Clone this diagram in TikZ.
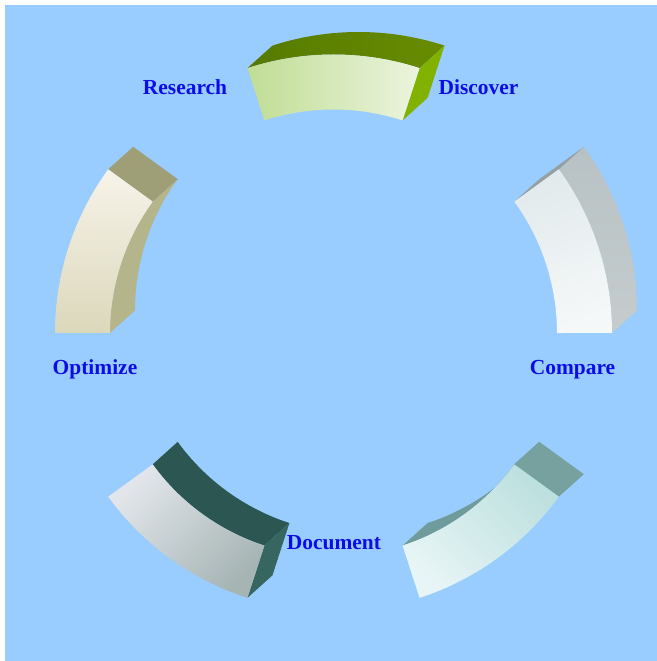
\documentclass[tikz,border=0pt]{standalone}
\usepackage{fontspec}
\setmainfont{Liberation Serif}

\definecolor{bgblue}{HTML}{99CCFF}
\definecolor{textblue}{HTML}{0C0CE6}

\tikzset{
    phase/.style={font=\fontsize{12.2}{14}\selectfont\bfseries, text=textblue, anchor=base, inner sep=0pt}
}

\begin{document}
\begin{tikzpicture}
        % Background:
        \fill[color=white] (-6.67, -6.56) rectangle (6.47, 6.66);
        \fill[color=bgblue] (-6.57, -6.56) rectangle (6.47, 6.56);

        % Ring radii:
        \def\ro{5.57}
        \def\ri{4.47}

        % Top segment (72 to 108):
        \shade[left color={rgb,255:red,86;green,122;blue,0}, right color={rgb,255:red,104;green,140;blue,0}]
            (72:\ro) arc[start angle=72, end angle=108, radius=\ro]
            -- ([shift={(0.5,0.45)}]108:\ro) arc[start angle=108, end angle=72, radius=\ro] -- cycle;
        \fill[color={rgb,255:red,130;green,178;blue,0}]
            (72:\ri) -- (72:\ro) -- ([shift={(0.5,0.45)}]72:\ro) -- ([shift={(0.5,0.45)}]72:\ri) -- cycle;
        \shade[left color={rgb,255:red,192;green,221;blue,148}, right color={rgb,255:red,236;green,244;blue,222}]
            (72:\ro) arc[start angle=72, end angle=108, radius=\ro]
            -- (108:\ri) arc[start angle=108, end angle=72, radius=\ri] -- cycle;

        % Right segment (0 to 36):
        \shade[top color={rgb,255:red,184;green,193;blue,195}, bottom color={rgb,255:red,196;green,204;blue,206}]
            (0:\ro) arc[start angle=0, end angle=36, radius=\ro]
            -- ([shift={(0.5,0.45)}]36:\ro) arc[start angle=36, end angle=0, radius=\ro] -- cycle;
        \fill[color={rgb,255:red,150;green,160;blue,163}]
            (36:\ri) -- (36:\ro) -- ([shift={(0.5,0.45)}]36:\ro) -- ([shift={(0.5,0.45)}]36:\ri) -- cycle;
        \shade[top color={rgb,255:red,226;green,234;blue,236}, bottom color={rgb,255:red,245;green,248;blue,249}, shading angle=20]
            (0:\ro) arc[start angle=0, end angle=36, radius=\ro]
            -- (36:\ri) arc[start angle=36, end angle=0, radius=\ri] -- cycle;

        % Left segment (144 to 180):
        \fill[color={rgb,255:red,181;green,181;blue,140}]
            (144:\ri) arc[start angle=144, end angle=180, radius=\ri]
            -- ([shift={(0.5,0.45)}]180:\ri) arc[start angle=180, end angle=144, radius=\ri] -- cycle;
        \fill[color={rgb,255:red,158;green,158;blue,119}]
            (144:\ri) -- (144:\ro) -- ([shift={(0.5,0.45)}]144:\ro) -- ([shift={(0.5,0.45)}]144:\ri) -- cycle;
        \shade[top color={rgb,255:red,246;green,243;blue,233}, bottom color={rgb,255:red,220;green,216;blue,187}]
            (144:\ro) arc[start angle=144, end angle=180, radius=\ro]
            -- (180:\ri) arc[start angle=180, end angle=144, radius=\ri] -- cycle;

        % Bottom left segment (216 to 252):
        \fill[color={rgb,255:red,44;green,86;blue,82}]
            (216:\ri) arc[start angle=216, end angle=252, radius=\ri]
            -- ([shift={(0.5,0.45)}]252:\ri) arc[start angle=252, end angle=216, radius=\ri] -- cycle;
        \fill[color={rgb,255:red,55;green,101;blue,95}]
            (252:\ri) -- (252:\ro) -- ([shift={(0.5,0.45)}]252:\ro) -- ([shift={(0.5,0.45)}]252:\ri) -- cycle;
        \shade[top color={rgb,255:red,226;green,230;blue,234}, bottom color={rgb,255:red,166;green,180;blue,180}, shading angle=45]
            (216:\ro) arc[start angle=216, end angle=252, radius=\ro]
            -- (252:\ri) arc[start angle=252, end angle=216, radius=\ri] -- cycle;

        % Bottom right segment (288 to 324):
        \fill[color={rgb,255:red,111;green,156;blue,154}]
            (288:\ri) arc[start angle=288, end angle=324, radius=\ri]
            -- ([shift={(0.5,0.45)}]324:\ri) arc[start angle=324, end angle=288, radius=\ri] -- cycle;
        \fill[color={rgb,255:red,119;green,161;blue,159}]
            (324:\ri) -- (324:\ro) -- ([shift={(0.5,0.45)}]324:\ro) -- ([shift={(0.5,0.45)}]324:\ri) -- cycle;
        \shade[top color={rgb,255:red,188;green,224;blue,222}, bottom color={rgb,255:red,232;green,245;blue,246}, shading angle=-45]
            (288:\ro) arc[start angle=288, end angle=324, radius=\ro]
            -- (324:\ri) arc[start angle=324, end angle=288, radius=\ri] -- cycle;

        % Labels:
        \node[phase] (research) at (-2.97, 4.76) {Research};
        \node[phase] (discover) at (2.9, 4.76) {Discover};
        \node[phase] (compare) at (4.78, -0.84) {Compare};
        \node[phase] (optimize) at (-4.77, -0.84) {Optimize};
        \node[phase] (document) at (0.01, -4.32) {Document};
\end{tikzpicture}
\end{document}
